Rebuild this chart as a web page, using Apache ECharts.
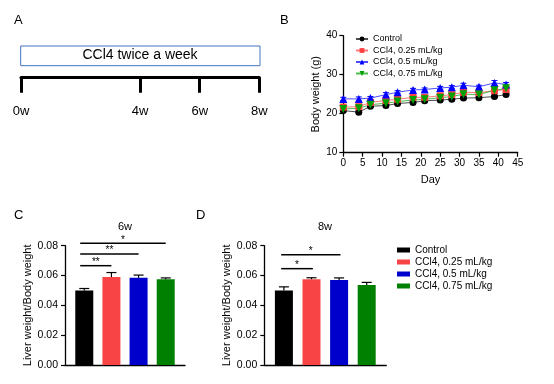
<!DOCTYPE html>
<html><head><meta charset="utf-8">
<script src="https://cdn.jsdelivr.net/npm/echarts@6/dist/echarts.min.js"></script>
<style>html,body{margin:0;padding:0;background:#fff}#c{width:554px;height:384px}</style>
</head><body><div id="c"></div>
<script>
const FONT = 'Liberation Sans';
const groupNames = ['Control', 'CCl4, 0.25 mL/kg', 'CCl4, 0.5 mL/kg', 'CCl4, 0.75 mL/kg'];

// Panel A: timeline
const weeks = [0, 4, 6, 8];
const timelineLabel = 'CCl4 twice a week';

// Panel B: body weight (g) by day
const days = [0, 4, 7, 11, 14, 18, 21, 25, 28, 31, 35, 39, 42];
const bwControl = [20.8, 20.4, 21.9, 22.1, 22.6, 22.9, 23.3, 23.5, 23.7, 24.0, 24.1, 24.4, 24.9];
const bwLow     = [21.7, 21.8, 22.9, 23.4, 23.7, 24.2, 24.2, 24.6, 24.9, 25.5, 25.4, 25.9, 26.2];
const bwMid     = [23.8, 23.8, 24.0, 24.9, 25.5, 26.1, 26.2, 26.6, 26.8, 27.3, 26.9, 27.9, 27.5];
const bwHigh    = [21.2, 21.4, 22.3, 22.7, 23.1, 23.5, 23.7, 24.1, 24.4, 25.0, 24.9, 26.0, 26.5];
const bwErrControl = [0.3, 0.3, 0.3, 0.3, 0.3, 0.3, 0.3, 0.3, 0.3, 0.3, 0.3, 0.3, 0.3];
const bwErrLow     = [0.4, 0.4, 0.4, 0.4, 0.4, 0.4, 0.4, 0.4, 0.4, 0.4, 0.4, 0.4, 0.4];
const bwErrMid     = [0.4, 0.5, 0.4, 0.5, 0.4, 0.4, 0.4, 0.4, 0.4, 0.5, 0.4, 0.6, 0.5];
const bwErrHigh    = [0.3, 0.3, 0.3, 0.3, 0.3, 0.3, 0.3, 0.3, 0.3, 0.3, 0.3, 0.3, 0.3];

// Panel C: liver/body weight at 6w
const ratio6w = [0.050, 0.059, 0.0585, 0.0575];
const err6w   = [0.0013, 0.003, 0.0018, 0.0009];
const sigFrom6w  = [-0.15, -0.15, -0.15];
const sigTo6w    = [1.0, 2.0, 3.0];
const sigY6w     = [0.0666, 0.0744, 0.0816];
const sigText6w  = ['**', '**', '*'];

// Panel D: liver/body weight at 8w
const ratio8w = [0.050, 0.0575, 0.057, 0.0536];
const err8w   = [0.0024, 0.001, 0.0014, 0.0018];
const sigFrom8w  = [-0.1, -0.1];
const sigTo8w    = [1.05, 2.05];
const sigY8w     = [0.0646, 0.074];
const sigText8w  = ['*', '*'];

const lineColors = ['#000000', '#FF4040', '#0000FF', '#00A000'];
const barColors  = ['#000000', '#F84444', '#0000CC', '#008000'];
const lineSymbols = ['circle', 'rect', 'triangle', 'triangle'];
const lineRot = [0, 0, 0, 180];
const bwSeries = [bwControl, bwLow, bwMid, bwHigh];
const bwErrs = [bwErrControl, bwErrLow, bwErrMid, bwErrHigh];

const chart = echarts.init(document.getElementById('c'), null, {renderer: 'canvas'});

const axisLineBlack = {show: true, onZero: false, lineStyle: {color: '#000', width: 1.3}};
const txt = (size) => ({color: '#000', fontFamily: FONT, fontSize: size});

function errRenderB(params, api) {
  const x = api.value(0), y = api.value(1), e = api.value(2);
  const a = api.coord([x, y - e]), b = api.coord([x, y + e]);
  const c = api.visual('color');
  const hw = 3;
  return {type: 'group', children: [
    {type: 'line', shape: {x1: a[0], y1: a[1], x2: b[0], y2: b[1]}, style: {stroke: c, lineWidth: 1}},
    {type: 'line', shape: {x1: b[0] - hw, y1: b[1], x2: b[0] + hw, y2: b[1]}, style: {stroke: c, lineWidth: 1}},
    {type: 'line', shape: {x1: a[0] - hw, y1: a[1], x2: a[0] + hw, y2: a[1]}, style: {stroke: c, lineWidth: 1}}
  ]};
}
function errRenderBar(params, api) {
  const x = api.value(0), y = api.value(1), e = api.value(2);
  const a = api.coord([x, y]), b = api.coord([x, y + e]);
  const hw = 5;
  return {type: 'group', children: [
    {type: 'line', shape: {x1: a[0], y1: a[1], x2: b[0], y2: b[1]}, style: {stroke: '#000', lineWidth: 1.2}},
    {type: 'line', shape: {x1: b[0] - hw, y1: b[1], x2: b[0] + hw, y2: b[1]}, style: {stroke: '#000', lineWidth: 1.2}}
  ]};
}
function sigRender(labels) {
  return function (params, api) {
    const x0 = api.value(0), x1 = api.value(1), y = api.value(2);
    const a = api.coord([x0, y]), b = api.coord([x1, y]);
    return {type: 'group', children: [
      {type: 'line', shape: {x1: a[0], y1: a[1], x2: b[0], y2: b[1]}, style: {stroke: '#000', lineWidth: 1.5}},
      {type: 'text', style: {text: labels[params.dataIndex], x: (a[0] + b[0]) / 2, y: a[1] - 3.5,
        align: 'center', verticalAlign: 'middle', font: '10px ' + FONT, fill: '#000'}}
    ]};
  };
}

const series = [];
// Panel B lines
groupNames.forEach((n, i) => {
  series.push({
    type: 'line', name: n, xAxisIndex: 1, yAxisIndex: 1, z: 3,
    data: days.map((d, k) => [d, bwSeries[i][k]]),
    symbol: lineSymbols[i], symbolRotate: lineRot[i], symbolSize: i >= 2 ? 8 : 7,
    itemStyle: {color: lineColors[i]},
    lineStyle: {color: lineColors[i], width: 1, opacity: 0.7},
    animation: false
  });
});
groupNames.forEach((n, i) => {
  series.push({
    type: 'custom', xAxisIndex: 1, yAxisIndex: 1, z: 2,
    itemStyle: {color: lineColors[i]},
    data: days.map((d, k) => [d, bwSeries[i][k], bwErrs[i][k]]),
    renderItem: errRenderB, animation: false
  });
});
// Panels C and D bars
[[ratio6w, err6w, 2], [ratio8w, err8w, 3]].forEach(([vals, errs, ax]) => {
  groupNames.forEach((n, i) => {
    series.push({
      type: 'bar', name: n, xAxisIndex: ax, yAxisIndex: ax,
      data: [[i, vals[i]]], barWidth: 18, barGap: '-100%',
      itemStyle: {color: barColors[i]}, animation: false
    });
  });
  series.push({
    type: 'custom', xAxisIndex: ax, yAxisIndex: ax, z: 4,
    data: vals.map((v, i) => [i, v, errs[i]]),
    renderItem: errRenderBar, animation: false
  });
});
series.push({
  type: 'custom', xAxisIndex: 2, yAxisIndex: 2, z: 5,
  data: sigY6w.map((y, i) => [sigFrom6w[i], sigTo6w[i], y]),
  renderItem: sigRender(sigText6w), animation: false
});
series.push({
  type: 'custom', xAxisIndex: 3, yAxisIndex: 3, z: 5,
  data: sigY8w.map((y, i) => [sigFrom8w[i], sigTo8w[i], y]),
  renderItem: sigRender(sigText8w), animation: false
});

const barYAxis = (gi) => ({
  gridIndex: gi, type: 'value', min: 0, max: 0.08, interval: 0.02,
  name: 'Liver weight/Body weight', nameLocation: 'middle', nameGap: 30,
  nameTextStyle: txt(11),
  axisLine: axisLineBlack, axisTick: {show: true, length: 4, lineStyle: {color: '#000', width: 1.2}},
  axisLabel: Object.assign(txt(10.5), {margin: 7, formatter: v => v.toFixed(2)}),
  splitLine: {show: false}
});
const barXAxis = (gi) => ({
  gridIndex: gi, type: 'value', min: -0.71, max: 3.71,
  axisLine: axisLineBlack, axisTick: {show: false}, axisLabel: {show: false}, splitLine: {show: false}
});

const option = {
  backgroundColor: '#fff',
  animation: false,
  textStyle: {fontFamily: FONT},
  title: [
    {text: 'A', left: 9, top: 9, textStyle: Object.assign(txt(13), {fontWeight: 'normal'})},
    {text: 'B', left: 275, top: 9, textStyle: Object.assign(txt(13), {fontWeight: 'normal'})},
    {text: 'C', left: 9, top: 204, textStyle: Object.assign(txt(13), {fontWeight: 'normal'})},
    {text: 'D', left: 191, top: 204, textStyle: Object.assign(txt(13), {fontWeight: 'normal'})},
    {text: timelineLabel, left: 140, top: 48.5, textAlign: 'center', padding: 0, textStyle: Object.assign(txt(14), {fontWeight: 'normal'})},
    {text: '6w', left: 125, top: 221, textAlign: 'center', padding: 0, textStyle: Object.assign(txt(11), {fontWeight: 'normal'})},
    {text: '8w', left: 325, top: 221, textAlign: 'center', padding: 0, textStyle: Object.assign(txt(11), {fontWeight: 'normal'})}
  ],
  graphic: [
    {type: 'rect', z: -1, shape: {x: 20.7, y: 46, width: 239.3, height: 19.7},
     style: {fill: '#fff', stroke: '#4472C4', lineWidth: 1}}
  ],
  legend: [
    {
      data: groupNames, left: 355, top: 34.5, orient: 'vertical',
      itemWidth: 12, itemHeight: 6, itemGap: 2.5, selectedMode: false, padding: 0,
      textStyle: txt(9)
    },
    {
      data: groupNames.map((n, i) => ({name: n, icon: 'rect', itemStyle: {color: barColors[i], borderWidth: 0}})),
      left: 397, top: 245, orient: 'vertical',
      itemWidth: 13, itemHeight: 5, itemGap: 2, itemTextGap: 7, selectedMode: false, padding: 0,
      textStyle: txt(10)
    }
  ],
  grid: [
    {left: 21, top: 30, width: 238.3, height: 47.3},
    {left: 343.3, top: 35.7, width: 174.4, height: 117},
    {left: 65, top: 245.7, width: 120, height: 119.3},
    {left: 264.3, top: 245.7, width: 122, height: 119.3}
  ],
  xAxis: [
    {gridIndex: 0, type: 'value', min: 0, max: 8,
     axisLine: {show: true, onZero: false, lineStyle: {color: '#000', width: 3}},
     axisTick: {show: true, customValues: weeks, length: 15.4, lineStyle: {color: '#000', width: 3}},
     axisLabel: Object.assign(txt(13), {customValues: weeks, margin: 28, formatter: v => v + 'w'}),
     splitLine: {show: false}},
    {gridIndex: 1, type: 'value', min: 0, max: 45, interval: 5,
     name: 'Day', nameLocation: 'middle', nameGap: 22, nameTextStyle: txt(11),
     axisLine: axisLineBlack, axisTick: {show: true, length: 4, lineStyle: {color: '#000', width: 1.2}},
     axisLabel: Object.assign(txt(10), {margin: 6}), splitLine: {show: false}},
    barXAxis(2),
    barXAxis(3)
  ],
  yAxis: [
    {gridIndex: 0, type: 'value', min: 0, max: 1, show: false},
    {gridIndex: 1, type: 'value', min: 10, max: 40, interval: 10,
     name: 'Body weight (g)', nameLocation: 'middle', nameGap: 22, nameTextStyle: txt(11),
     axisLine: axisLineBlack, axisTick: {show: true, length: 4, lineStyle: {color: '#000', width: 1.2}},
     axisLabel: Object.assign(txt(10), {margin: 6}), splitLine: {show: false}},
    barYAxis(2),
    barYAxis(3)
  ],
  series: series
};
chart.setOption(option);
</script>
</body></html>
